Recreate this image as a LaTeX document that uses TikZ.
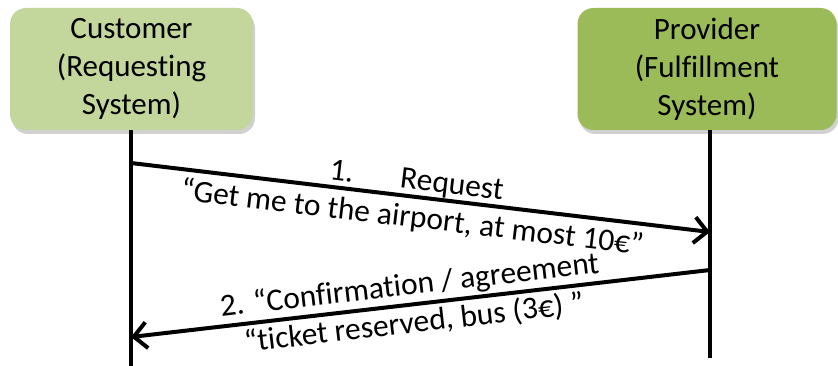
\documentclass[tikz,border=0pt]{standalone}
\usepackage{fontspec}
\setmainfont[Ligatures={NoCommon,NoRare}]{Carlito}
\usetikzlibrary{arrows.meta,shadows}
\definecolor{custgreen}{HTML}{C3D69B}
\definecolor{provgreen}{HTML}{9BBB59}
\tikzset{
  actor/.style={rounded corners=16pt, minimum height=122pt, align=center,
    font=\fontsize{31}{38}\selectfont, inner sep=0pt,
    drop shadow={shadow xshift=2pt, shadow yshift=-4pt, opacity=0.3, fill=black!60}},
  lifeline/.style={line width=4pt},
  msg/.style={line width=4pt, -{Straight Barb[length=13pt,width=26pt]}},
  msglabel/.style={sloped, align=center, font=\fontsize{31.5}{38}\selectfont}
}
\begin{document}
\begin{tikzpicture}[x=1pt,y=-1pt]
  \useasboundingbox (0,0) rectangle (838,366);
  % participants
  \node[actor, fill=custgreen, minimum width=243pt] (cust) at (131.5,69) {Customer\\(Requesting\\System)};
  \node[actor, fill=provgreen, minimum width=259pt] (prov) at (707,69) {Provider\\(Fulfillment\\System)};
  % lifelines
  \coordinate (custend) at (131,366);
  \coordinate (provend) at (710,358);
  \draw[lifeline] (cust.south -| custend) -- (custend);
  \draw[lifeline] (prov.south -| provend) -- (provend);
  % message anchors on the lifelines
  \coordinate (req0) at (131,163);
  \coordinate (req1) at (710,232);
  \coordinate (conf0) at (710,270);
  \coordinate (conf1) at (131,337);
  % messages
  \draw[msg] (req0) -- (req1)
    node[msglabel, pos=0.49, yshift=-4pt] {1.\hspace{1.5em}Request\\“Get me to the airport, at most 10€”};
  \draw[msg] (conf0) -- (conf1)
    node[msglabel, pos=0.515] {2. “Confirmation / agreement\\“ticket reserved, bus (3€) ”};
\end{tikzpicture}
\end{document}
